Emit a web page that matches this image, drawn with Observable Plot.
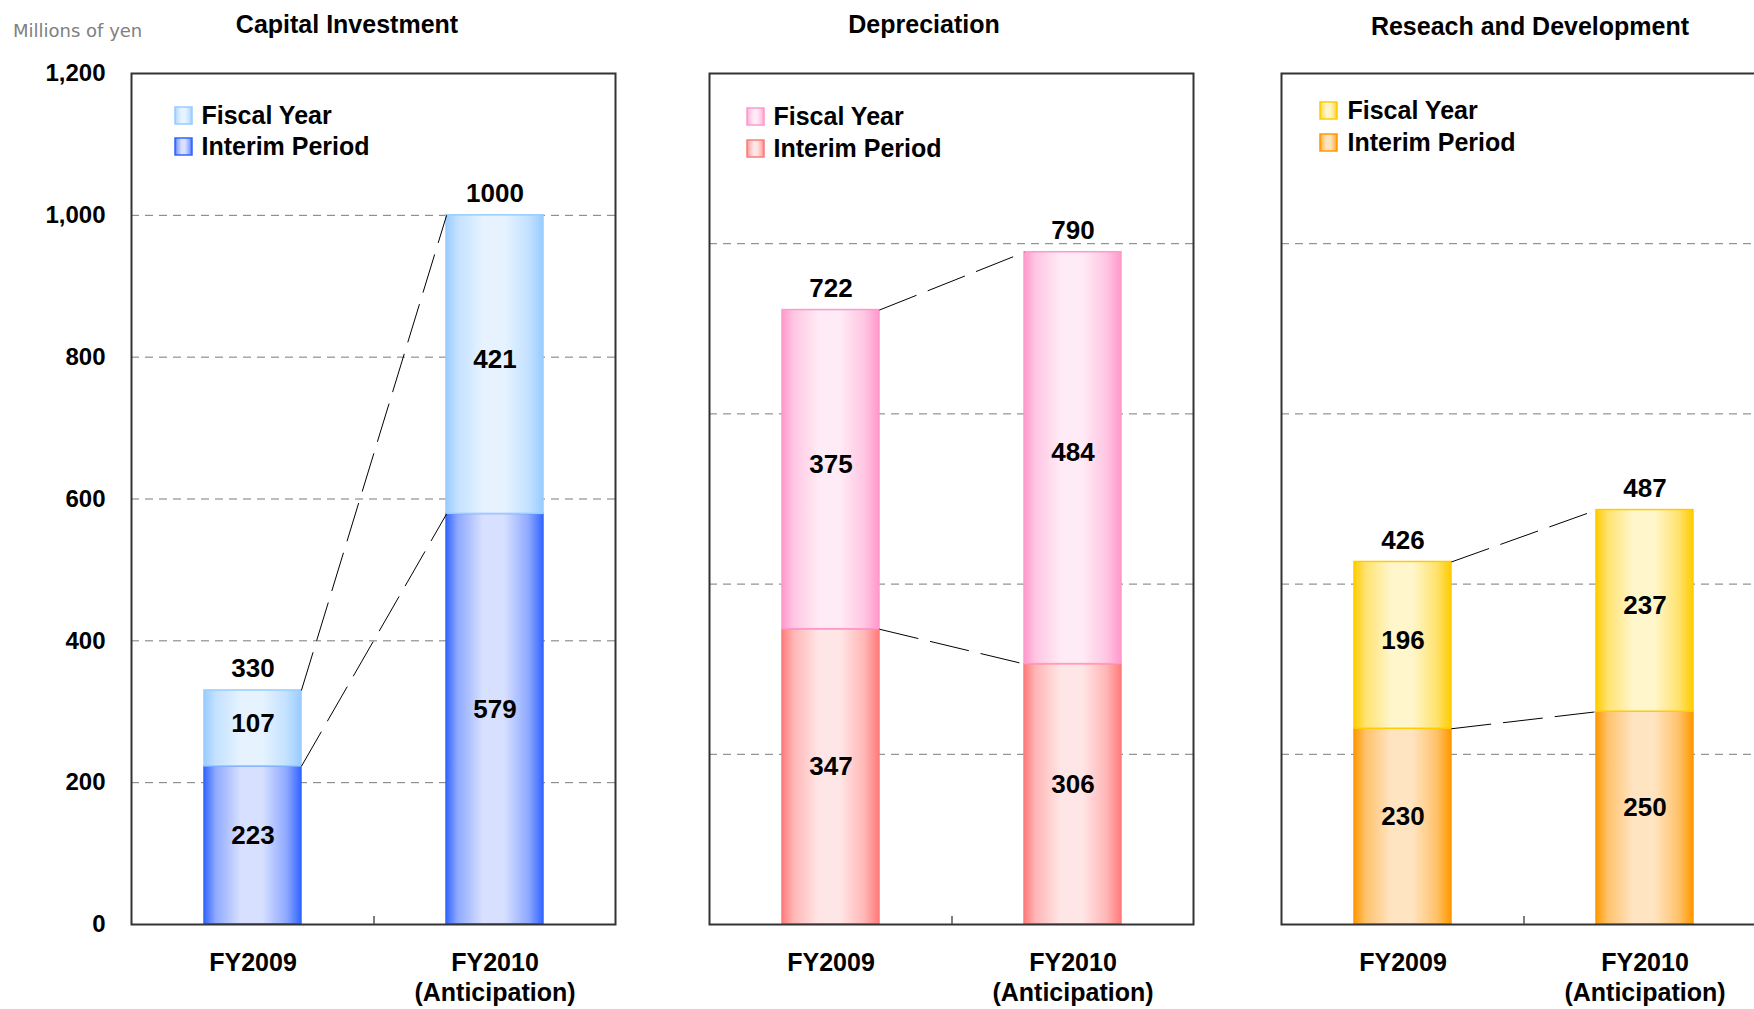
<!DOCTYPE html>
<html><head><meta charset="utf-8">
<script src="https://cdn.jsdelivr.net/npm/d3@7"></script>
<script src="https://cdn.jsdelivr.net/npm/@observablehq/plot@0.6"></script>
<style>
html,body{margin:0;padding:0;background:#fff;width:1754px;height:1009px;overflow:hidden;}
#root{position:relative;width:1754px;height:1009px;overflow:hidden;background:#fff;}
.panel{position:absolute;top:0;}
.title{position:absolute;font-family:"Liberation Sans",Arial,sans-serif;font-weight:bold;font-size:25px;line-height:25px;color:#000;transform:translateX(-50%);white-space:nowrap;}
.unit{position:absolute;left:13px;top:22px;font-family:"DejaVu Sans",sans-serif;font-size:18px;line-height:18px;color:#808080;white-space:nowrap;}
</style></head><body><div id="root"></div>
<script>
// ---- data ----
const categories = ["FY2009", "FY2010"];
const tickLabels = ["FY2009", "FY2010\n(Anticipation)"];
const panelTitles = ["Capital Investment", "Depreciation", "Reseach and Development"];
const legendLabels = ["Fiscal Year", "Interim Period"];
const unitLabel = "Millions of yen";
const capitalInterim = [223, 579];
const capitalFiscal = [330, 1000];
const deprecInterim = [347, 306];
const deprecFiscal = [722, 790];
const rndInterim = [230, 250];
const rndFiscal = [426, 487];
const capitalTicks = [0, 200, 400, 600, 800, 1000, 1200];
const capitalGrid = [200, 400, 600, 800, 1000];
const otherGrid = [200, 400, 600, 800];

// ---- layout / style ----
const PLOT_W = 484, SVG_H = 1009, M_TOP = 73, M_BOTTOM = 85;
const panels = [
  {id: "cap", interim: capitalInterim, fiscal: capitalFiscal, yMax: 1200, grid: capitalGrid, showY: true,
   left: 0, svgW: 640, ml: 131, titleX: 347, titleTop: 12,
   fEdge: "#99ccff", fLight: "#e6f3ff", iEdge: "#3366ff", iLight: "#d8e0ff",
   legDx: 52, legTextDx: 70, legDy: [42, 73]},
  {id: "dep", interim: deprecInterim, fiscal: deprecFiscal, yMax: 1000, grid: otherGrid, showY: false,
   left: 660, svgW: 560, ml: 49, titleX: 924, titleTop: 12,
   fEdge: "#ff99cc", fLight: "#ffebf5", iEdge: "#ff7b7b", iLight: "#ffe6e6",
   legDx: 46, legTextDx: 64, legDy: [43, 75]},
  {id: "rnd", interim: rndInterim, fiscal: rndFiscal, yMax: 1000, grid: otherGrid, showY: false,
   left: 1240, svgW: 560, ml: 41, titleX: 1530, titleTop: 14,
   fEdge: "#ffcc00", fLight: "#fff6cc", iEdge: "#ff9900", iLight: "#ffe4c2",
   legDx: 47, legTextDx: 66, legDy: [37, 69]}
];
const FONT = "'Liberation Sans', Arial, sans-serif";

// custom curve: shift link endpoints from band centres to bar edges
const edgeCurve = half => context => {
  let n = 0;
  return {
    areaStart() {}, areaEnd() {},
    lineStart() { n = 0; },
    lineEnd() {},
    point(x, y) { if (n++ === 0) context.moveTo(x + half, y); else context.lineTo(x - half, y); }
  };
};

function addGradient(svg, id, edge, light) {
  const ns = "http://www.w3.org/2000/svg";
  let defs = svg.querySelector("defs");
  if (!defs) { defs = document.createElementNS(ns, "defs"); svg.insertBefore(defs, svg.firstChild); }
  const g = document.createElementNS(ns, "linearGradient");
  g.setAttribute("id", id);
  g.setAttribute("x1", "0"); g.setAttribute("x2", "1"); g.setAttribute("y1", "0"); g.setAttribute("y2", "0");
  const mid = d3.interpolateRgb(edge, light)(0.55);
  [[0, edge], [0.12, mid], [0.38, light], [0.6, light], [0.85, mid], [1, edge]].forEach(([o, c]) => {
    const s = document.createElementNS(ns, "stop");
    s.setAttribute("offset", o); s.setAttribute("stop-color", c);
    g.appendChild(s);
  });
  defs.appendChild(g);
}

const root = document.getElementById("root");
const unit = document.createElement("div");
unit.className = "unit"; unit.textContent = unitLabel; root.appendChild(unit);

panels.forEach((p, k) => {
  const rows = categories.map((c, i) => ({cat: c, interim: p.interim[i], total: p.fiscal[i], second: p.fiscal[i] - p.interim[i]}));
  const links = [
    {a: categories[0], b: categories[1], v0: p.interim[0], v1: p.interim[1]},
    {a: categories[0], b: categories[1], v0: p.fiscal[0], v1: p.fiscal[1]}
  ];
  const fId = `${p.id}-f`, iId = `${p.id}-i`;
  const halfBar = PLOT_W * 0.2 / 2;
  const plotH = SVG_H - M_TOP - M_BOTTOM;
  const marks = [
    Plot.ruleY(p.grid, {stroke: "#7a7a7a", strokeDasharray: "8,6", strokeWidth: 1}),
    Plot.barY(rows, {x: "cat", y1: () => 0, y2: "interim", fill: `url(#${iId})`, stroke: p.iEdge, strokeWidth: 1.5}),
    Plot.barY(rows, {x: "cat", y1: "interim", y2: "total", fill: `url(#${fId})`, stroke: p.fEdge, strokeWidth: 1.5}),
    Plot.link(links, {x1: "a", x2: "b", y1: "v0", y2: "v1", curve: edgeCurve(halfBar), stroke: "#000", strokeWidth: 1, strokeDasharray: "40,12"}),
    Plot.frame({stroke: "#333", strokeWidth: 2}),
    Plot.ruleX([categories[0]], {x: d => d, dx: PLOT_W / 4, y1: () => 0, y2: () => p.yMax * 8 / plotH, stroke: "#555", strokeWidth: 1.5}),
    Plot.text(rows, {x: "cat", y: "total", text: d => String(d.total), dy: -13, lineAnchor: "bottom", fontSize: 26, fontWeight: "bold", fill: "#000"}),
    Plot.text(rows, {x: "cat", y: d => d.interim / 2, text: d => String(d.interim), dy: -10, lineAnchor: "middle", fontSize: 26, fontWeight: "bold", fill: "#000"}),
    Plot.text(rows, {x: "cat", y: d => (d.interim + d.total) / 2, text: d => String(d.second), dy: -5, lineAnchor: "middle", fontSize: 26, fontWeight: "bold", fill: "#000"}),
    Plot.dot([legendLabels[0]], {frameAnchor: "top-left", dx: p.legDx, dy: p.legDy[0], symbol: "square", r: 9.6, fill: `url(#${fId})`, stroke: p.fEdge, strokeWidth: 1.5}),
    Plot.dot([legendLabels[1]], {frameAnchor: "top-left", dx: p.legDx, dy: p.legDy[1], symbol: "square", r: 9.6, fill: `url(#${iId})`, stroke: p.iEdge, strokeWidth: 1.5}),
    Plot.text([legendLabels[0]], {frameAnchor: "top-left", dx: p.legTextDx, dy: p.legDy[0], text: d => d, textAnchor: "start", lineAnchor: "middle", fontSize: 25, fontWeight: "bold", fill: "#000"}),
    Plot.text([legendLabels[1]], {frameAnchor: "top-left", dx: p.legTextDx, dy: p.legDy[1], text: d => d, textAnchor: "start", lineAnchor: "middle", fontSize: 25, fontWeight: "bold", fill: "#000"}),
    Plot.axisX({tickSize: 0, tickPadding: 25, fontSize: 25, fontWeight: "bold", lineHeight: 1.2, fill: "#000",
      tickFormat: d => tickLabels[categories.indexOf(d)]})
  ];
  if (p.showY) marks.push(Plot.axisY(capitalTicks, {tickSize: 0, tickPadding: 26, fontSize: 24, fontWeight: "bold", fill: "#000", tickFormat: d3.format(",")}));

  const svg = Plot.plot({
    width: p.svgW, height: SVG_H,
    marginLeft: p.ml, marginRight: p.svgW - p.ml - PLOT_W, marginTop: M_TOP, marginBottom: M_BOTTOM,
    x: {domain: categories, paddingInner: 0.6, paddingOuter: 0.3, axis: null},
    y: {domain: [0, p.yMax], axis: null},
    style: `font-family: ${FONT}; background: transparent; max-width: none; overflow: visible; color: #000;`,
    marks
  });
  addGradient(svg, fId, p.fEdge, p.fLight);
  addGradient(svg, iId, p.iEdge, p.iLight);
  const div = document.createElement("div");
  div.className = "panel";
  div.style.left = p.left + "px";
  div.style.width = p.svgW + "px";
  div.appendChild(svg);
  root.appendChild(div);

  const t = document.createElement("div");
  t.className = "title";
  t.style.left = p.titleX + "px";
  t.style.top = p.titleTop + "px";
  t.textContent = panelTitles[k];
  root.appendChild(t);
});
</script></body></html>
